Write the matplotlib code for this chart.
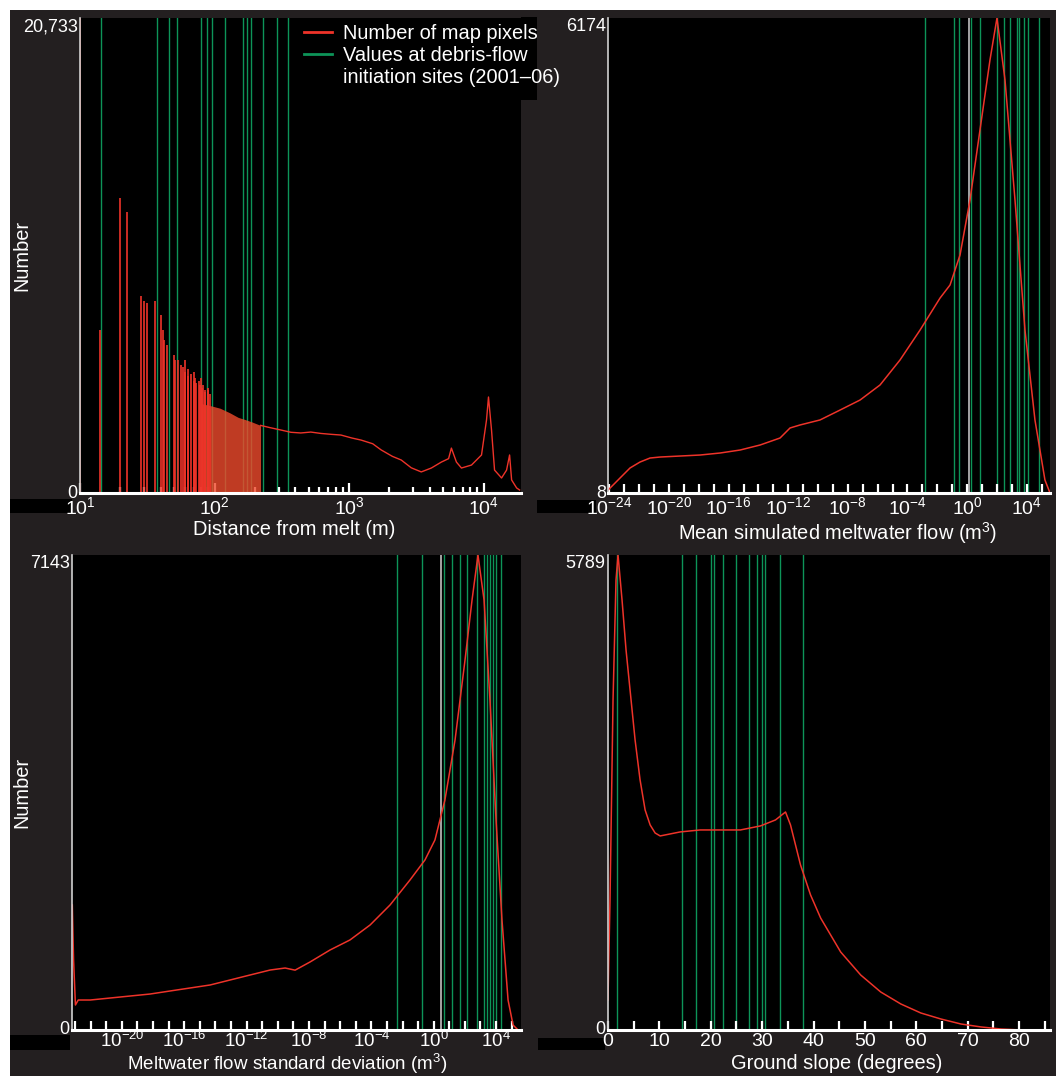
import numpy as np
import matplotlib
matplotlib.use('Agg')
import matplotlib.pyplot as plt
from matplotlib.patches import Rectangle
from matplotlib.lines import Line2D
import matplotlib.ticker as mticker

plt.rcParams['font.family'] = ['Liberation Sans', 'DejaVu Sans']
plt.rcParams['mathtext.fontset'] = 'custom'
plt.rcParams['mathtext.rm'] = 'Liberation Sans'
plt.rcParams['mathtext.it'] = 'Liberation Sans:italic'
plt.rcParams['mathtext.bf'] = 'Liberation Sans:bold'

# ---------------- data ----------------
# Panel 1: distance from melt (m)
dist_spike_m = [10, 14.14, 20, 22.36, 28.28, 30, 31.62, 36.06, 40, 41.23, 42.43, 44.72,
                50, 50.99, 53.85, 56.57, 58.31, 60, 60.83, 63.25, 64.03, 67.08, 70, 70.71,
                72.11, 72.8, 76.16, 78.1, 80, 80.62, 82.46, 84.85, 85.44, 89.44, 90, 92.2]
dist_spike_n = [20733, 7100, 12860, 12250, 8590, 8400, 8300, 8400, 7770, 7110, 6680, 6460,
                6020, 5800, 5800, 5590, 5500, 5800, 5300, 5400, 5100, 5200, 5300, 4900,
                5000, 4800, 4900, 4700, 5000, 4600, 4700, 4500, 4400, 4600, 4500, 4300]
dist_band_m = [80, 95, 110, 130, 150, 170, 190, 220]
dist_band_n = [3900, 3800, 3700, 3500, 3300, 3200, 3100, 2950]
dist_curve_m = [220, 260, 311, 370, 438, 520, 618, 740, 871, 1050, 1230, 1500, 1734, 2100,
                2445, 2903, 3446, 4092, 4860, 5500, 5770, 6290, 6856, 8140, 9664, 10530,
                10890, 11470, 12080, 13620, 14840, 15630, 16180, 17630, 18560]
dist_curve_n = [2950, 2850, 2750, 2650, 2620, 2660, 2600, 2560, 2530, 2400, 2310, 2150,
                1880, 1600, 1440, 1100, 920, 1090, 1350, 1500, 1960, 1350, 1090, 1220,
                1660, 3190, 4190, 2750, 1000, 655, 1000, 1660, 570, 220, 130]
dist_sites_m = [14.35, 37.6, 46.1, 52.7, 79.6, 88.6, 96.1, 118.8, 161.8, 173.3, 185.7,
                228.2, 290.2, 350.5]

# Panel 2: mean simulated meltwater flow, exponent of m^3
mean_exp = [-24.09, -23.29, -22.62, -21.95, -21.28, -20.6, -19.26, -17.92, -16.58, -15.23,
            -13.89, -12.55, -11.88, -11.21, -9.87, -8.52, -7.18, -5.84, -4.5, -3.15,
            -1.81, -1.14, -0.47, 0.2, 0.87, 1.54, 2.01, 2.55, 3.22, 3.89, 4.56, 5.23, 5.57]
mean_n = [47, 203, 333, 410, 462, 475, 488, 501, 527, 566, 631, 722, 852, 891, 956, 1085,
          1215, 1410, 1734, 2124, 2539, 2708, 3097, 3811, 4720, 5628, 6174, 5369, 3811,
          2124, 956, 177, 8]
mean_sites_exp = [-2.82, -0.85, -0.52, 0.27, 0.87, 2.03, 2.48, 2.89, 3.34, 3.49, 3.85,
                  4.11, 4.83]
mean_site_grey_exp = [0.13]

# Panel 3: meltwater flow standard deviation, exponent of m^3
sd_exp = [-23.18, -23.1, -22.98, -22.8, -22.03, -20.75, -19.47, -18.19, -16.9, -15.62,
          -14.34, -13.06, -11.78, -10.49, -9.53, -8.89, -7.93, -6.65, -5.37, -4.08, -2.8,
          -1.52, -0.56, 0.08, 0.72, 1.37, 2.01, 2.46, 2.84, 3.23, 3.61, 4.0, 4.38, 4.77,
          5.09, 5.41]
sd_n = [1880, 1053, 376, 451, 451, 481, 511, 541, 587, 632, 677, 752, 827, 902, 932, 900,
        1023, 1203, 1354, 1579, 1880, 2256, 2557, 2858, 3459, 4362, 5565, 6467, 7143,
        6467, 4963, 3158, 1654, 451, 75, 0]
sd_sites_exp = [-2.35, -0.75, 0.67, 1.17, 1.69, 2.13, 2.78, 3.22, 3.42, 3.61, 3.8, 4.0, 4.3]
sd_site_grey_exp = [0.47]

# Panel 4: ground slope (degrees)
slope_deg = [0, 0.39, 0.98, 1.56, 1.95, 2.73, 3.51, 4.29, 5.27, 6.24, 7.22, 8.2, 9.17,
             10.15, 14.05, 17.95, 21.85, 25.76, 29.66, 32.59, 34.54, 35.51, 37.46, 39.41,
             41.37, 45.27, 49.17, 53.07, 56.98, 60.88, 64.78, 68.68, 72.59, 76.49, 80.39]
slope_n = [366, 1585, 4023, 5486, 5789, 5242, 4632, 4145, 3535, 3048, 2682, 2499, 2401,
           2365, 2414, 2438, 2438, 2438, 2487, 2560, 2657, 2499, 2011, 1646, 1365, 951,
           670, 463, 317, 207, 134, 73, 37, 12, 0]
slope_sites_deg = [1.76, 14.4, 17.1, 20.0, 20.6, 22.4, 25.0, 27.5, 28.9, 29.9, 30.6,
                   33.4, 37.9]

y_top = [20733, 6174, 7143, 5789]
y_bottom = [0, 8, 0, 0]
y_top_labels = ['20,733', '6174', '7143', '5789']
y_bottom_labels = ['0', '8', '0', '0']
x_labels = ['Distance from melt (m)', 'Mean simulated meltwater flow (m$^3$)',
            'Meltwater flow standard deviation (m$^3$)', 'Ground slope (degrees)']
legend_labels = ['Number of map pixels', 'Values at debris-flow',
                 'initiation sites (2001\u201306)']

# ---------------- styling ----------------
BG = '#231f20'
RED = '#ee3329'
GREEN = '#0d9458'
W, H = 1056, 1076
FS = 14.4
TFS = 14

fig = plt.figure(figsize=(W / 100, H / 100), dpi=100, facecolor=BG)


def frect(x0, y0, x1, y1, color):
    fig.patches.append(Rectangle((x0 / W, 1 - y1 / H), (x1 - x0) / W, (y1 - y0) / H,
                                 transform=fig.transFigure, facecolor=color,
                                 edgecolor='none', zorder=-1))


frect(0, 0, W, 10, 'white')
frect(0, 0, 10, H, 'white')
frect(10, 499, 72, 513, 'black')
frect(537, 500, 596, 513, 'black')
frect(10, 1035, 70, 1050, 'black')
frect(538, 1038, 605, 1050, 'black')
frect(521, 17, 537, 100, 'black')


def add_ax(x0, y0, x1, y1):
    ax = fig.add_axes([x0 / W, 1 - y1 / H, (x1 - x0) / W, (y1 - y0) / H])
    ax.set_facecolor('black')
    for s in ['top', 'right']:
        ax.spines[s].set_visible(False)
    ax.spines['bottom'].set_color('white')
    ax.spines['bottom'].set_linewidth(2.2)
    ax.spines['left'].set_color('#d0d0d0')
    ax.spines['left'].set_linewidth(1.2)
    ax.tick_params(axis='x', which='both', direction='in', colors='white', width=1.6,
                   labelsize=TFS, pad=2.5)
    ax.tick_params(axis='x', which='major', length=6.5)
    ax.tick_params(axis='x', which='minor', length=6.5)
    ax.tick_params(axis='y', which='both', length=0, labelleft=False)
    return ax


ax1 = add_ax(80, 18, 521, 493)
ax2 = add_ax(608, 18, 1050, 493)
ax3 = add_ax(72, 555, 521, 1030)
ax4 = add_ax(608, 555, 1050, 1030)
axes = [ax1, ax2, ax3, ax4]

# Panel 1
ax1.set_xscale('log')
for d in dist_sites_m:
    ax1.axvline(d, color=GREEN, lw=1.0, zorder=1)
ax1.fill_between(dist_band_m, 0, dist_band_n, color='#f04a2c', lw=0, alpha=0.8, zorder=2)
ax1.vlines(dist_spike_m, 0, dist_spike_n, color=RED, lw=1.2, zorder=2)
ax1.plot(dist_curve_m, dist_curve_n, color=RED, lw=1.0, zorder=2)
ax1.set_xlim(10, 19000)
ax1.xaxis.set_major_locator(mticker.LogLocator(base=10, numticks=10))
ax1.xaxis.set_minor_locator(mticker.LogLocator(base=10, subs=np.arange(2, 10), numticks=10))
ax1.xaxis.set_minor_formatter(mticker.NullFormatter())
ax1.tick_params(axis='x', which='major', length=7.5)
ax1.tick_params(axis='x', which='minor', length=4)

# Panel 2
ax2.set_xscale('log')
for e in mean_sites_exp:
    ax2.axvline(10.0 ** e, color=GREEN, lw=1.0, zorder=1)
for e in mean_site_grey_exp:
    ax2.axvline(10.0 ** e, color='#bfbfbf', lw=1.2, zorder=1)
ax2.plot(10.0 ** np.array(mean_exp), mean_n, color=RED, lw=1.1, zorder=2)
ax2.set_xlim(10 ** -24.1, 10 ** 5.57)

# Panel 3
ax3.set_xscale('log')
for e in sd_sites_exp:
    ax3.axvline(10.0 ** e, color=GREEN, lw=1.0, zorder=1)
for e in sd_site_grey_exp:
    ax3.axvline(10.0 ** e, color='#bfbfbf', lw=1.2, zorder=1)
ax3.plot(10.0 ** np.array(sd_exp), sd_n, color=RED, lw=1.1, zorder=2)
ax3.set_xlim(10 ** -23.2, 10 ** 5.6)
ax3.tick_params(axis='x', which='both', pad=1.0, labelsize=13.5)

for ax, lo, hi in [(ax2, -24, 5), (ax3, -23, 5)]:
    dec = np.arange(lo, hi + 1)
    ax.xaxis.set_minor_locator(mticker.FixedLocator(10.0 ** dec))
    ax.xaxis.set_minor_formatter(mticker.NullFormatter())
    labs = [d for d in dec if d % 4 == 0]
    ax.xaxis.set_major_locator(mticker.FixedLocator(10.0 ** np.array(labs, dtype=float)))
    ax.xaxis.set_major_formatter(mticker.FixedFormatter(
        ['$10^{%d}$' % d if d >= 0 else '$10^{\u2212%d}$' % (-d) for d in labs]))

# Panel 4
for s in slope_sites_deg:
    ax4.axvline(s, color=GREEN, lw=1.0, zorder=1)
ax4.plot(slope_deg, slope_n, color=RED, lw=1.1, zorder=2)
ax4.set_xlim(0, 86)
ax4.xaxis.set_major_locator(mticker.MultipleLocator(10))
ax4.xaxis.set_minor_locator(mticker.MultipleLocator(5))

xlabel_x = [0.485, 0.52, 0.479, 0.518]
xlabel_y = [-0.057, -0.057, -0.047, -0.05]
xlabel_fs = [FS, FS, 13.5, FS]
for ax, yt, yb, lt, lb, xl, lx, ly, lf in zip(axes, y_top, y_bottom, y_top_labels,
                                              y_bottom_labels, x_labels, xlabel_x,
                                              xlabel_y, xlabel_fs):
    ax.set_ylim(yb, yt)
    ax.text(-0.005, 1.0, lt, transform=ax.transAxes, ha='right', va='top',
            color='white', fontsize=13)
    ax.text(-0.005, 0.0, lb, transform=ax.transAxes, ha='right', va='center',
            color='white', fontsize=13)
    ax.set_xlabel(xl, color='white', fontsize=lf)
    ax.xaxis.set_label_coords(lx, ly)

ax1.set_ylabel('Number', color='white', fontsize=FS)
ax1.yaxis.set_label_coords(-49 / 441, 0.5)
ax3.set_ylabel('Number', color='white', fontsize=FS)
ax3.yaxis.set_label_coords(-41 / 449, 0.5)

handles = [Line2D([], [], color=RED, lw=2), Line2D([], [], color=GREEN, lw=2),
           Line2D([], [], color='none')]
leg = ax1.legend(handles, legend_labels, loc='upper left',
                 bbox_to_anchor=(304 / W, 1 - 24 / H), bbox_transform=fig.transFigure,
                 frameon=False, fontsize=FS, handlelength=1.4, handletextpad=0.55,
                 labelspacing=0.14, borderaxespad=0, borderpad=0, labelcolor='white')

fig.savefig('out.png', dpi=100, facecolor=BG)
